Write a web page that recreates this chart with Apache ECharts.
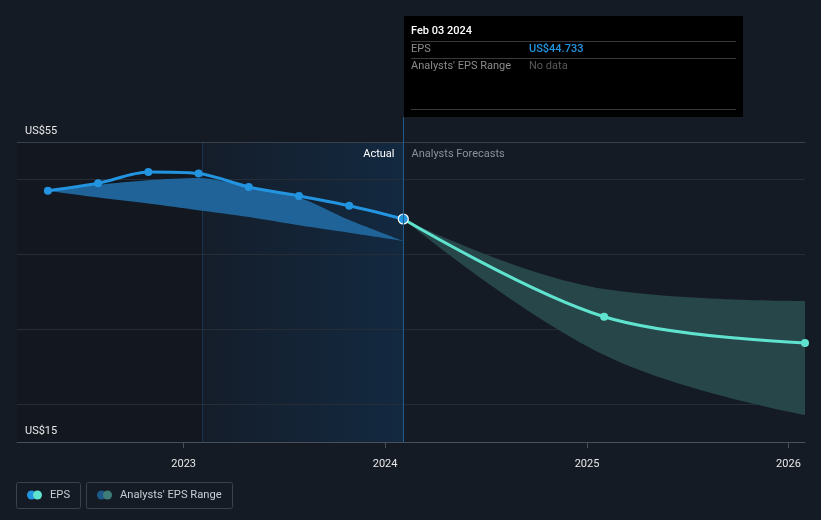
<!DOCTYPE html>
<html>
<head>
<meta charset="utf-8">
<script src="https://cdn.jsdelivr.net/npm/echarts@6/dist/echarts.min.js"></script>
<style>
html,body{margin:0;padding:0;background:#151b25;}
#chart{width:821px;height:520px;}
</style>
</head>
<body>
<div id="chart"></div>
<script>
// ---- data ----
const epsDates = ['2022-04-30','2022-07-30','2022-10-29','2023-01-28','2023-04-29','2023-07-29','2023-10-28','2024-02-03'];
const epsValues = [48.5, 49.5, 51.0, 50.8, 49.0, 47.8, 46.5, 44.733];
const pastRangeLow  = [48.5, 47.6, 46.8, 45.9, 45.0, 43.9, 42.9, 41.8];
const pastRangeHigh = [48.5, 49.3, 49.9, 50.2, 49.0, 47.6, 44.6, 41.8];
const forecastDates = ['2024-02-03','2025-02-01','2026-01-31'];
const forecastValues = [44.733, 31.7, 28.2];
const forecastLow  = [44.733, 26.6, 18.6];
const forecastHigh = [44.733, 35.4, 33.8];
const yearTicks = [2023, 2024, 2025, 2026];
const yLabels = [15, 55];
const gridValues = [20, 30, 40, 50];
const xMin = '2022-03-05';
const xMax = '2026-01-31';
const actualStart = '2023-02-03';
const currentDate = '2024-02-03';
const tooltipTitle = 'Feb 03 2024';
const tooltipEps = 'US$44.733';

const FONT = 'Roboto, "Noto Sans", sans-serif';
const ts = s => { const p = s.split('-').map(Number); return Date.UTC(p[0], p[1] - 1, p[2]); };
const pairs = (d, v) => d.map((x, i) => [ts(x), v[i]]);
const diff = (hi, lo) => hi.map((h, i) => +(h - lo[i]).toFixed(3));
const yearTs = yearTicks.map(y => Date.UTC(y, 0, 1));

const chart = echarts.init(document.getElementById('chart'), null, {renderer: 'canvas'});

const option = {
  backgroundColor: '#151b25',
  animation: false,
  grid: {left: 17, right: 16, top: 142, bottom: 78, containLabel: false},
  xAxis: [
    {
      type: 'time', min: ts(xMin), max: ts(xMax),
      axisLine: {show: false}, axisTick: {show: false}, axisLabel: {show: false}, splitLine: {show: false}
    },
    {
      type: 'value', min: ts(xMin), max: ts(xMax), position: 'bottom',
      splitLine: {show: false},
      axisLine: {show: true, lineStyle: {color: '#4a5059', width: 1}},
      axisTick: {show: true, length: 6, lineStyle: {color: '#4a5059'}, customValues: yearTs},
      axisLabel: {
        color: '#e8e8e8', fontSize: 11, fontFamily: FONT, margin: 17,
        customValues: yearTs,
        formatter: v => String(new Date(v).getUTCFullYear())
      }
    }
  ],
  yAxis: {
    type: 'value',
    min: 15, max: 55, interval: 5,
    splitLine: {show: false},
    axisLine: {show: false},
    axisTick: {show: false},
    axisLabel: {
      inside: true, margin: 8, color: '#e8e8e8', fontSize: 11, fontFamily: FONT,
      verticalAlign: 'bottom', padding: [0, 0, 5, 0],
      formatter: v => (yLabels.indexOf(v) >= 0 ? 'US$' + v : '')
    }
  },
  series: [
    {
      type: 'line', data: [], silent: true, z: 0,
      markArea: {
        silent: true, z: 0,
        data: [
          [{xAxis: ts(xMin), itemStyle: {color: 'rgba(0,0,0,0.12)'}}, {xAxis: ts(actualStart)}],
          [{xAxis: ts(actualStart), itemStyle: {color: {type: 'linear', x: 0, y: 0, x2: 1, y2: 0,
            colorStops: [{offset: 0, color: 'rgba(18,45,72,0.15)'}, {offset: 1, color: 'rgba(18,45,72,0.78)'}]}}},
           {xAxis: ts(currentDate)}]
        ]
      },
      markLine: {
        silent: true, symbol: 'none', label: {show: false}, z: 0,
        data: gridValues.map(v => ({yAxis: v, lineStyle: {color: '#262d37', width: 1, type: 'solid'}}))
          .concat([{yAxis: 55, lineStyle: {color: '#3a4049', width: 1, type: 'solid'}},
                   {xAxis: ts(actualStart), lineStyle: {color: 'rgba(40,90,140,0.35)', width: 1, type: 'solid'}}])
      }
    },
    {
      name: 'pastLow', type: 'line', stack: 'past', smooth: 0.3, symbol: 'none',
      lineStyle: {width: 0}, data: pairs(epsDates, pastRangeLow), z: 2, silent: true
    },
    {
      name: "Analysts' EPS Range", type: 'line', stack: 'past', smooth: 0.3, symbol: 'none',
      lineStyle: {width: 0}, areaStyle: {color: '#1f6398', opacity: 1},
      data: pairs(epsDates, diff(pastRangeHigh, pastRangeLow)), z: 2, silent: true
    },
    {
      name: 'fcLow', type: 'line', stack: 'fc', smooth: 0.4, symbol: 'none',
      lineStyle: {width: 0}, data: pairs(forecastDates, forecastLow), z: 2, silent: true
    },
    {
      name: 'fcRange', type: 'line', stack: 'fc', smooth: 0.4, symbol: 'none',
      lineStyle: {width: 0}, areaStyle: {color: '#274649', opacity: 1},
      data: pairs(forecastDates, diff(forecastHigh, forecastLow)), z: 2, silent: true
    },
    {
      name: 'EPS forecast', type: 'line', smooth: 0.35,
      symbol: 'circle', symbolSize: 8,
      lineStyle: {color: '#5fe3cf', width: 3},
      itemStyle: {color: '#5fe3cf'},
      data: pairs(forecastDates, forecastValues).map((p, i) => i === 0 ? {value: p, symbol: 'none'} : p),
      z: 3
    },
    {
      name: 'EPS', type: 'line', smooth: 0.3,
      symbol: 'circle', symbolSize: 8,
      lineStyle: {color: '#2394df', width: 3},
      itemStyle: {color: '#2394df'},
      data: pairs(epsDates, epsValues).map((p, i, arr) => i === arr.length - 1
        ? {value: p, symbolSize: 10, itemStyle: {color: '#2394df', borderColor: '#ffffff', borderWidth: 1.2}} : p),
      z: 4
    }
  ]
};
chart.setOption(option);

// ---- overlay: tooltip box, region labels, legend ----
const cx = chart.convertToPixel({xAxisIndex: 0, yAxisIndex: 0}, [ts(currentDate), 15]);
const px = Math.round(cx[0]) + 0.5;
const axisY = cx[1];
const plotTop = chart.convertToPixel({xAxisIndex: 0, yAxisIndex: 0}, [ts(currentDate), 55])[1];
const boxLeft = px + 0.5, boxTop = 16, boxW = 339, boxH = 101;
const LF = '11.2px ' + FONT;

const graphics = [
  {type: 'line', silent: true, z: 5, shape: {x1: px, y1: boxTop + boxH, x2: px, y2: axisY},
   style: {stroke: '#1f5c8c', lineWidth: 1}},
  {type: 'rect', silent: true, z: 10, shape: {x: boxLeft, y: boxTop, width: boxW, height: boxH}, style: {fill: '#000000'}},
  {type: 'text', z: 11, x: boxLeft + 7, y: boxTop + 15, style: {text: tooltipTitle, fill: '#ffffff', font: '500 11px ' + FONT, verticalAlign: 'middle'}},
  {type: 'line', z: 11, shape: {x1: boxLeft + 7, y1: boxTop + 25.5, x2: boxLeft + boxW - 7, y2: boxTop + 25.5}, style: {stroke: '#3a3a3a', lineWidth: 1}},
  {type: 'text', z: 11, x: boxLeft + 7, y: boxTop + 33, style: {text: 'EPS', fill: '#8c8c8c', font: '11px ' + FONT, verticalAlign: 'middle'}},
  {type: 'text', z: 11, x: boxLeft + 125, y: boxTop + 33, style: {text: tooltipEps, fill: '#2394df', font: '500 11px ' + FONT, verticalAlign: 'middle'}},
  {type: 'line', z: 11, shape: {x1: boxLeft + 7, y1: boxTop + 42.5, x2: boxLeft + boxW - 7, y2: boxTop + 42.5}, style: {stroke: '#3a3a3a', lineWidth: 1}},
  {type: 'text', z: 11, x: boxLeft + 7, y: boxTop + 50, style: {text: "Analysts' EPS Range", fill: '#8c8c8c', font: '11px ' + FONT, verticalAlign: 'middle'}},
  {type: 'text', z: 11, x: boxLeft + 125, y: boxTop + 50, style: {text: 'No data', fill: '#5a5a5a', font: '11px ' + FONT, verticalAlign: 'middle'}},
  {type: 'line', z: 11, shape: {x1: boxLeft + 7, y1: boxTop + 93.5, x2: boxLeft + boxW - 7, y2: boxTop + 93.5}, style: {stroke: '#3a3a3a', lineWidth: 1}},
  {type: 'text', z: 6, x: px - 9, y: plotTop + 12, style: {text: 'Actual', fill: '#ffffff', font: '11px ' + FONT, align: 'right', verticalAlign: 'middle'}},
  {type: 'text', z: 6, x: px + 8, y: plotTop + 12, style: {text: 'Analysts Forecasts', fill: '#8a9099', font: '11px ' + FONT, align: 'left', verticalAlign: 'middle'}},
  // legend
  {type: 'rect', z: 6, shape: {x: 16.5, y: 482.5, width: 64, height: 26, r: 2}, style: {fill: 'none', stroke: '#3c424b', lineWidth: 1}},
  {type: 'circle', z: 6, shape: {cx: 31.5, cy: 495, r: 4.5}, style: {fill: '#2394df'}},
  {type: 'circle', z: 7, shape: {cx: 37.5, cy: 495, r: 4.5}, style: {fill: '#5fe3cf'}},
  {type: 'text', z: 6, x: 50, y: 495.5, style: {text: 'EPS', fill: '#c9cdd3', font: LF, verticalAlign: 'middle'}},
  {type: 'rect', z: 6, shape: {x: 86.5, y: 482.5, width: 146, height: 26, r: 2}, style: {fill: 'none', stroke: '#3c424b', lineWidth: 1}},
  {type: 'circle', z: 6, shape: {cx: 101.5, cy: 495, r: 4.5}, style: {fill: '#1d5888'}},
  {type: 'circle', z: 7, shape: {cx: 107.5, cy: 495, r: 4.5}, style: {fill: '#3e7c78'}},
  {type: 'text', z: 6, x: 120, y: 495.5, style: {text: "Analysts' EPS Range", fill: '#c9cdd3', font: LF, verticalAlign: 'middle'}}
];
chart.setOption({graphic: graphics});
</script>
</body>
</html>
